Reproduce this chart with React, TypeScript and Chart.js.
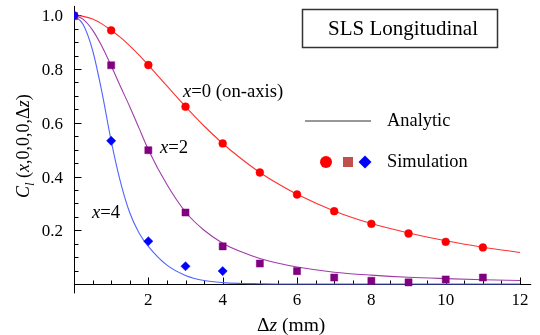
import React, { useEffect, useRef } from "react";
import { Chart, registerables } from "chart.js";

Chart.register(...registerables);

// ---- data ----
const simZ0 = [0, 1, 2, 3, 4, 5, 6, 7, 8, 9, 10, 11];
const simX0 = [1.0, 0.944, 0.815, 0.66, 0.523, 0.415, 0.333, 0.271, 0.224, 0.188, 0.157, 0.136];
const simZ2 = [0, 1, 2, 3, 4, 5, 6, 7, 8, 9, 10, 11];
const simX2 = [0.997, 0.814, 0.498, 0.266, 0.14, 0.076, 0.048, 0.024, 0.012, 0.006, 0.017, 0.024];
const simZ4 = [0, 1, 2, 3, 4];
const simX4 = [1.0, 0.533, 0.159, 0.066, 0.048];

const curveZ = [0, 0.25, 0.5, 0.75, 1, 1.25, 1.5, 1.75, 2, 2.5, 3, 3.5, 4, 4.5, 5, 5.5, 6, 7, 8, 9, 10, 11, 12];
const analyticX0 = [1.0, 0.996, 0.986, 0.968, 0.944, 0.918, 0.886, 0.852, 0.815, 0.737, 0.66, 0.588, 0.523, 0.466, 0.415, 0.372, 0.334, 0.272, 0.225, 0.19, 0.161, 0.137, 0.117];
const analyticX2 = [1.0, 0.985, 0.945, 0.885, 0.812, 0.735, 0.66, 0.58, 0.5, 0.37, 0.268, 0.2, 0.152, 0.12, 0.095, 0.077, 0.063, 0.044, 0.033, 0.025, 0.02, 0.016, 0.013];
const analyticX4 = [1.0, 0.965, 0.87, 0.715, 0.533, 0.38, 0.265, 0.19, 0.14, 0.07, 0.032, 0.013, 0.005, 0.002, 0.001, 0, 0, 0, 0, 0, 0, 0, 0];

const xTickValues = [2, 4, 6, 8, 10, 12];
const xTickLabels = ["2", "4", "6", "8", "10", "12"];
const yTickValues = [0.2, 0.4, 0.6, 0.8, 1.0];
const yTickLabels = ["0.2", "0.4", "0.6", "0.8", "1.0"];

const titleText = "SLS Longitudinal";
const legendAnalytic = "Analytic";
const legendSimulation = "Simulation";

const RED = "#ff0000";
const PURPLE = "#800080";
const BLUE = "#0000ff";
const SERIF = "'Liberation Serif', 'Times New Roman', serif";

const pts = (xs: number[], ys: number[]) => xs.map((x, i) => ({ x, y: ys[i] }));

type Piece = { t: string; it?: boolean; sub?: boolean };

function drawRich(ctx: CanvasRenderingContext2D, pieces: Piece[], x: number, y: number, size: number) {
  let cx = x;
  for (const p of pieces) {
    const s = p.sub ? Math.round(size * 0.7) : size;
    ctx.font = `${p.it ? "italic " : ""}${s}px ${SERIF}`;
    ctx.fillText(p.t, cx, p.sub ? y + size * 0.25 : y);
    cx += ctx.measureText(p.t).width;
  }
}

const decorPlugin = {
  id: "decor",
  beforeDatasetsDraw(chart: any) {
    const ctx: CanvasRenderingContext2D = chart.ctx;
    const xs = chart.scales.x;
    const ys = chart.scales.y;
    const x0 = Math.round(xs.getPixelForValue(0)) + 0.5;
    const y0 = Math.round(ys.getPixelForValue(0)) + 0.5;
    ctx.save();
    ctx.strokeStyle = "#000";
    ctx.lineWidth = 1;
    ctx.beginPath();
    ctx.moveTo(x0, chart.chartArea.top);
    ctx.lineTo(x0, chart.chartArea.bottom);
    ctx.moveTo(x0, y0);
    ctx.lineTo(chart.chartArea.right, y0);
    for (let v = 0.5; v <= 12.3; v += 0.5) {
      const px = Math.round(xs.getPixelForValue(v)) + 0.5;
      const major = Math.abs(v / 2 - Math.round(v / 2)) < 1e-6;
      ctx.moveTo(px, y0);
      ctx.lineTo(px, y0 - (major ? 7 : 4));
    }
    for (let k = 1; k <= 20; k++) {
      const v = k * 0.05;
      const py = Math.round(ys.getPixelForValue(v)) + 0.5;
      const major = k % 4 === 0;
      ctx.moveTo(x0, py);
      ctx.lineTo(x0 + (major ? 7 : 4), py);
    }
    ctx.stroke();
    ctx.restore();
  },
  afterDraw(chart: any) {
    const ctx: CanvasRenderingContext2D = chart.ctx;
    const xs = chart.scales.x;
    const ys = chart.scales.y;
    ctx.save();
    ctx.fillStyle = "#000";
    ctx.font = `17px ${SERIF}`;
    ctx.textAlign = "center";
    ctx.textBaseline = "alphabetic";
    xTickValues.forEach((v, i) => {
      ctx.fillText(xTickLabels[i], xs.getPixelForValue(v), 305);
    });
    ctx.textAlign = "right";
    yTickValues.forEach((v, i) => {
      ctx.fillText(yTickLabels[i], 63, ys.getPixelForValue(v) + 6);
    });

    ctx.textAlign = "left";
    drawRich(ctx, [{ t: "Δ" }, { t: "z", it: true }, { t: " (mm)" }], 257, 331, 19.5);
    ctx.save();
    ctx.translate(29, 198);
    ctx.rotate(-Math.PI / 2);
    drawRich(
      ctx,
      [
        { t: "C", it: true },
        { t: "l", it: true, sub: true },
        { t: " (" },
        { t: "x", it: true },
        { t: ",0,0,0,Δ" },
        { t: "z", it: true },
        { t: ")" },
      ],
      0,
      0,
      18
    );
    ctx.restore();

    drawRich(ctx, [{ t: "x", it: true }, { t: "=0 (on-axis)" }], 183, 97, 18.7);
    drawRich(ctx, [{ t: "x", it: true }, { t: "=2" }], 160, 153, 18.7);
    drawRich(ctx, [{ t: "x", it: true }, { t: "=4" }], 92, 218, 18.7);

    ctx.strokeStyle = "#333";
    ctx.lineWidth = 1.5;
    ctx.strokeRect(302.5, 9.5, 195, 38);
    ctx.font = `21px ${SERIF}`;
    ctx.textAlign = "center";
    ctx.fillText(titleText, 403, 35);

    ctx.strokeStyle = "#333";
    ctx.lineWidth = 1.2;
    ctx.beginPath();
    ctx.moveTo(305, 121);
    ctx.lineTo(371, 121);
    ctx.stroke();
    ctx.font = `18.4px ${SERIF}`;
    ctx.textAlign = "left";
    ctx.fillText(legendAnalytic, 387, 126);
    ctx.fillText(legendSimulation, 387, 167);

    ctx.fillStyle = RED;
    ctx.beginPath();
    ctx.arc(326, 162, 6, 0, Math.PI * 2);
    ctx.fill();
    ctx.fillStyle = "rgb(192,80,77)";
    ctx.fillRect(343, 157, 10, 10);
    ctx.fillStyle = BLUE;
    ctx.beginPath();
    ctx.moveTo(365, 155.5);
    ctx.lineTo(371.5, 162);
    ctx.lineTo(365, 168.5);
    ctx.lineTo(358.5, 162);
    ctx.closePath();
    ctx.fill();
    ctx.restore();
  },
};

export default function App() {
  const ref = useRef<HTMLCanvasElement | null>(null);
  useEffect(() => {
    if (!ref.current) return;
    const lineDs = (data: number[], color: string) => ({
      type: "scatter" as const,
      data: pts(curveZ, data),
      showLine: true,
      borderColor: color,
      borderWidth: 1.1,
      pointRadius: 0,
      cubicInterpolationMode: "monotone" as const,
      fill: false,
    });
    const pointDs = (xs: number[], ys: number[], color: string, style: string, r: number) => ({
      type: "scatter" as const,
      data: pts(xs, ys),
      showLine: false,
      pointStyle: style,
      pointRadius: r,
      pointBackgroundColor: color,
      pointBorderColor: color,
      pointBorderWidth: 0.5,
    });
    const chart = new Chart(ref.current, {
      type: "scatter",
      data: {
        datasets: [
          pointDs(simZ4, simX4, BLUE, "rectRot", 4.6),
          pointDs(simZ2, simX2, PURPLE, "rect", 5),
          pointDs(simZ0, simX0, RED, "circle", 3.9),
          lineDs(analyticX4, "rgb(80,100,255)"),
          lineDs(analyticX2, "rgb(160,60,170)"),
          lineDs(analyticX0, "rgb(255,50,50)"),
        ] as any,
      },
      options: {
        animation: false,
        responsive: false,
        devicePixelRatio: 1,
        layout: { padding: { left: 74, right: 8.8, top: 5.9, bottom: 41.6 } },
        plugins: { legend: { display: false }, tooltip: { enabled: false } },
        scales: {
          x: { type: "linear", min: 0, max: 12.3, display: false },
          y: { type: "linear", min: -0.035, max: 1.035, display: false },
        },
      },
      plugins: [decorPlugin],
    });
    return () => chart.destroy();
  }, []);
  return (
    <div style={{ position: "absolute", left: 0, top: 0, width: 540, height: 335, background: "#fff" }}>
      <canvas ref={ref} width={540} height={335} style={{ width: 540, height: 335, display: "block" }} />
    </div>
  );
}
